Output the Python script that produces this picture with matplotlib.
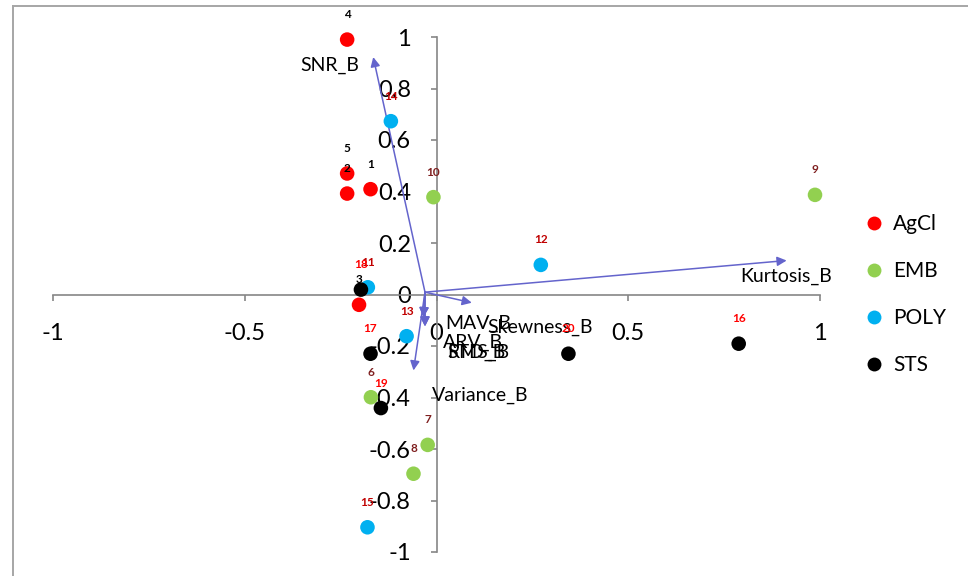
import matplotlib
matplotlib.use("Agg")
import matplotlib.pyplot as plt
from matplotlib.lines import Line2D

plt.rcParams['font.family'] = ['Lato', 'DejaVu Sans']

# Scores par groupe (numéro d'essai, composante 1, composante 2)
agcl_id = [1, 2, 3, 4, 5]
agcl_x = [-0.172, -0.233, -0.202, -0.233, -0.233]
agcl_y = [0.409, 0.392, -0.040, 0.990, 0.470]

emb_id = [6, 7, 8, 9, 10]
emb_x = [-0.171, -0.023, -0.060, 0.987, -0.008]
emb_y = [-0.399, -0.584, -0.696, 0.387, 0.378]

poly_id = [11, 12, 13, 14, 15]
poly_x = [-0.179, 0.272, -0.078, -0.119, -0.180]
poly_y = [0.028, 0.115, -0.162, 0.673, -0.904]

sts_id = [16, 17, 18, 19, 20]
sts_x = [0.788, -0.172, -0.197, -0.145, 0.344]
sts_y = [-0.191, -0.230, 0.019, -0.441, -0.230]

# Vecteurs des variables (départ commun, extrémités)
var_origin = (-0.030, 0.009)
var_names = ['SNR_B', 'Kurtosis_B', 'Skewness_B', 'MAV_B', 'ARV_B', 'RMS_B', 'STD_B', 'Variance_B']
var_x = [-0.165, 0.913, 0.092, -0.034, -0.034, -0.030, -0.030, -0.060]
var_y = [0.922, 0.132, -0.032, -0.088, -0.088, -0.124, -0.124, -0.295]
# position du coin gauche des étiquettes de variables
var_lab_x = [-0.356, 0.793, 0.132, 0.022, 0.017, 0.027, 0.027, -0.012]
var_lab_y = [0.889, 0.070, -0.127, -0.111, -0.185, -0.224, -0.224, -0.392]

groupes = [
    ('AgCl', agcl_id, agcl_x, agcl_y, '#FF0000', '#000000'),
    ('EMB', emb_id, emb_x, emb_y, '#92D050', '#7F1F1F'),
    ('POLY', poly_id, poly_x, poly_y, '#00B0F0', '#C00000'),
    ('STS', sts_id, sts_x, sts_y, '#000000', '#FF0000'),
]

fig = plt.figure(figsize=(9.68, 5.76), dpi=100)
ax = fig.add_axes([53 / 968, 24 / 576, 767 / 968, 515 / 576])
ax.set_xlim(-1, 1)
ax.set_ylim(-1, 1)

gris = '#868686'
for cote in ['top', 'right']:
    ax.spines[cote].set_visible(False)
for cote in ['left', 'bottom']:
    ax.spines[cote].set_position(('data', 0))
    ax.spines[cote].set_color(gris)
    ax.spines[cote].set_linewidth(1.2)
ax.set_xticks([-1, -0.5, 0, 0.5, 1])
ax.set_xticklabels(['-1', '-0.5', '0', '0.5', '1'])
yt = [-1, -0.8, -0.6, -0.4, -0.2, 0, 0.2, 0.4, 0.6, 0.8, 1]
ax.set_yticks(yt)
ax.set_yticklabels(['-1', '-0.8', '-0.6', '-0.4', '-0.2', '0', '0.2', '0.4', '0.6', '0.8', '1'])
ax.tick_params(axis='both', direction='out', length=4.5, width=1.2, color=gris,
               labelsize=17, labelcolor='black')
ax.tick_params(axis='x', pad=16)
ax.tick_params(axis='y', pad=14)
ax.patch.set_alpha(0)

# flèches des variables
coul_fleche = '#6464CC'
for nom, x, y, lx, ly in zip(var_names, var_x, var_y, var_lab_x, var_lab_y):
    ax.annotate('', xy=(x, y), xytext=var_origin,
                arrowprops=dict(arrowstyle='-|>', color=coul_fleche, lw=1.1,
                                mutation_scale=14, shrinkA=0, shrinkB=0),
                zorder=3)
    ax.text(lx, ly, nom, fontsize=14, ha='left', va='center', zorder=5)

# points et numéros
handles = []
for nom, ids, xs, ys, coul, coul_lab in groupes:
    ax.scatter(xs, ys, s=110, color=coul, edgecolors='none', zorder=4, clip_on=False)
    for i, x, y in zip(ids, xs, ys):
        ax.annotate(str(i), (x, y), xytext=(0, 18), textcoords='offset points',
                    ha='center', va='center', fontsize=8.5, fontweight='bold',
                    color=coul_lab, zorder=6, annotation_clip=False)
    handles.append(Line2D([], [], marker='o', linestyle='none', markersize=10,
                          markerfacecolor=coul, markeredgecolor='none', label=nom))

fig.legend(handles=handles, loc='center left', bbox_to_anchor=(866 / 968, 1 - 294.5 / 576),
           frameon=False, fontsize=15, labelspacing=1.3, handlelength=0.8,
           handletextpad=0.5, borderpad=0, borderaxespad=0)

# cadre de la zone du graphique
fig.add_artist(Line2D([13 / 968, 13 / 968], [0, 1 - 6 / 576], color='#A6A6A6', lw=1.4))
fig.add_artist(Line2D([13 / 968, 1], [1 - 6 / 576, 1 - 6 / 576], color='#A6A6A6', lw=1.4))

fig.savefig('out.png', dpi=100)
